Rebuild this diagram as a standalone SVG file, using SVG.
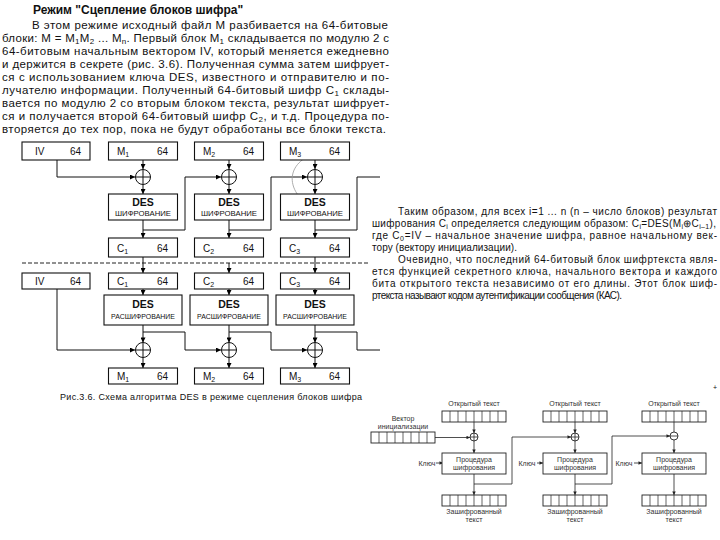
<svg xmlns="http://www.w3.org/2000/svg" width="720" height="540" viewBox="0 0 720 540">
<defs>
<marker id="a" viewBox="0 0 10 10" refX="10" refY="5" markerWidth="6" markerHeight="5" markerUnits="userSpaceOnUse" orient="auto"><path d="M0,0 L10,5 L0,10 z" fill="#000"/></marker>
<marker id="s" viewBox="0 0 10 10" refX="10" refY="5" markerWidth="4" markerHeight="3.5" markerUnits="userSpaceOnUse" orient="auto"><path d="M0,0 L10,5 L0,10 z" fill="#222"/></marker>
<g id="reg"><rect x="0" y="0" width="64" height="11" fill="#fff" stroke="#222" stroke-width="0.9"/><path d="M8 0V11M16 0V11M24 0V11M32 0V11M40 0V11M48 0V11M56 0V11" stroke="#222" stroke-width="0.7"/></g>
</defs>
<style>
text{font-family:"Liberation Sans",Arial,sans-serif;fill:#111}
.p{font-size:11.5px}
.q{font-size:10px}
.t{font-size:12px;font-weight:bold}
.bl{font-size:10px}
.des{font-size:10.5px;font-weight:bold;text-anchor:middle}
.sm{font-size:7px;text-anchor:middle}
.cap{font-size:9px}
.r{font-size:7px;text-anchor:middle;fill:#333}
.b{fill:#fff;stroke:#111;stroke-width:1.1}
.l{fill:none;stroke:#111;stroke-width:1}
.x{fill:#fff;stroke:#111;stroke-width:1}
.rl{fill:none;stroke:#222;stroke-width:0.8}
.rb{fill:#fff;stroke:#222;stroke-width:0.9}
</style>
<rect width="720" height="540" fill="#fff"/>

<g id="text-left">
<text class="t" x="33" y="14">Режим "Сцепление блоков шифра"</text>
<text class="p" x="32" y="29" textLength="356" lengthAdjust="spacing">В этом режиме исходный файл М разбивается на 64-битовые</text>
<text class="p" x="2" y="42" textLength="387" lengthAdjust="spacing">блоки: M = M<tspan font-size="8" dy="2">1</tspan><tspan dy="-2">M</tspan><tspan font-size="8" dy="2">2</tspan><tspan dy="-2"> ... M</tspan><tspan font-size="8" dy="2">n</tspan><tspan dy="-2">. Первый блок M</tspan><tspan font-size="8" dy="2">1</tspan><tspan dy="-2"> складывается по модулю 2 с</tspan></text>
<text class="p" x="2" y="55" textLength="387" lengthAdjust="spacing">64-битовым начальным вектором IV, который меняется ежедневно</text>
<text class="p" x="2" y="68" textLength="387" lengthAdjust="spacing">и держится в секрете (рис. 3.6). Полученная сумма затем шифрует-</text>
<text class="p" x="2" y="81" textLength="387" lengthAdjust="spacing">ся с использованием ключа DES, известного и отправителю и по-</text>
<text class="p" x="2" y="94" textLength="387" lengthAdjust="spacing">лучателю информации. Полученный 64-битовый шифр C<tspan font-size="8" dy="2">1</tspan><tspan dy="-2"> склады-</tspan></text>
<text class="p" x="2" y="107" textLength="387" lengthAdjust="spacing">вается по модулю 2 со вторым блоком текста, результат шифрует-</text>
<text class="p" x="2" y="120" textLength="387" lengthAdjust="spacing">ся и получается второй 64-битовый шифр C<tspan font-size="8" dy="2">2</tspan><tspan dy="-2">, и т.д. Процедура по-</tspan></text>
<text class="p" x="2" y="133" textLength="384" lengthAdjust="spacing">вторяется до тех пор, пока не будут обработаны все блоки текста.</text>
</g>

<g id="text-right">
<text class="q" x="398" y="214.5" textLength="319" lengthAdjust="spacing">Таким образом, для всех i=1 ... n (n – число блоков) результат</text>
<text class="q" x="372" y="226.5" textLength="344" lengthAdjust="spacing">шифрования C<tspan font-size="7" dy="2">i</tspan><tspan dy="-2"> определяется следующим образом: C</tspan><tspan font-size="7" dy="2">i</tspan><tspan dy="-2">=DES(M</tspan><tspan font-size="7" dy="2">i</tspan><tspan dy="-2">⊕C</tspan><tspan font-size="7" dy="2">i–1</tspan><tspan dy="-2">),</tspan></text>
<text class="q" x="372" y="238.5" textLength="345" lengthAdjust="spacing">где C<tspan font-size="7" dy="2">0</tspan><tspan dy="-2">=IV – начальное значение шифра, равное начальному век-</tspan></text>
<text class="q" x="372" y="250.5" textLength="145" lengthAdjust="spacing">тору (вектору инициализации).</text>
<text class="q" x="398" y="262.5" textLength="319" lengthAdjust="spacing">Очевидно, что последний 64-битовый блок шифртекста явля-</text>
<text class="q" x="372" y="274.5" textLength="345" lengthAdjust="spacing">ется функцией секретного ключа, начального вектора и каждого</text>
<text class="q" x="372" y="286.5" textLength="345" lengthAdjust="spacing">бита открытого текста независимо от его длины. Этот блок шиф-</text>
<text class="q" x="372" y="298.5" textLength="250" lengthAdjust="spacing">ртекста называют кодом аутентификации сообщения (КАС).</text>
</g>

<g id="connectors-left">
<path class="l" d="M143 160V169" marker-end="url(#a)"/>
<path class="l" d="M229 160V169" marker-end="url(#a)"/>
<path class="l" d="M315 160V169" marker-end="url(#a)"/>
<path class="l" d="M57 160V177H135" marker-end="url(#a)"/>
<path class="l" d="M143 184.5V194" marker-end="url(#a)"/>
<path class="l" d="M229 184.5V194" marker-end="url(#a)"/>
<path class="l" d="M315 184.5V194" marker-end="url(#a)"/>
<path class="l" d="M143 220V238" marker-end="url(#a)"/>
<path class="l" d="M229 220V238" marker-end="url(#a)"/>
<path class="l" d="M315 220V238" marker-end="url(#a)"/>
<path class="l" d="M143 230H185V177H221" marker-end="url(#a)"/>
<path class="l" d="M229 230H271V177H307" marker-end="url(#a)"/>
<path class="l" d="M315 230H357V177H380"/>
<path d="M332 152C300 150 278 176 303 201" fill="none" stroke="#999" stroke-width="0.8"/>
<path d="M22 263H368" fill="none" stroke="#222" stroke-width="1" stroke-dasharray="4 2"/>
<path class="l" d="M143 257V273" marker-end="url(#a)"/>
<path class="l" d="M229 263V273" marker-end="url(#a)"/>
<path class="l" d="M315 257V273" marker-end="url(#a)"/>
<path class="l" d="M143 289V295" marker-end="url(#a)"/>
<path class="l" d="M229 289V295" marker-end="url(#a)"/>
<path class="l" d="M315 289V295" marker-end="url(#a)"/>
<path class="l" d="M143 325V342.5" marker-end="url(#a)"/>
<path class="l" d="M229 325V342.5" marker-end="url(#a)"/>
<path class="l" d="M315 325V342.5" marker-end="url(#a)"/>
<path class="l" d="M143 332H185V350H221" marker-end="url(#a)"/>
<path class="l" d="M229 332H271V350H307" marker-end="url(#a)"/>
<path class="l" d="M315 332H357V350H380"/>
<path class="l" d="M57 289V350H135" marker-end="url(#a)"/>
<path class="l" d="M143 357.5V368" marker-end="url(#a)"/>
<path class="l" d="M229 357.5V368" marker-end="url(#a)"/>
<path class="l" d="M315 357.5V368" marker-end="url(#a)"/>
</g>

<g id="iv-top"><rect class="b" x="22" y="142" width="68" height="18"/><text class="bl" x="35" y="155">IV</text><text class="bl" x="70" y="155">64</text></g>
<g id="m1-top"><rect class="b" x="108.5" y="142" width="69" height="18"/><text class="bl" x="117" y="155">M<tspan font-size="7" dy="2">1</tspan></text><text class="bl" x="157" y="155">64</text></g>
<g id="m2-top"><rect class="b" x="194.5" y="142" width="69" height="18"/><text class="bl" x="203" y="155">M<tspan font-size="7" dy="2">2</tspan></text><text class="bl" x="243" y="155">64</text></g>
<g id="m3-top"><rect class="b" x="280.5" y="142" width="69" height="18"/><text class="bl" x="289" y="155">M<tspan font-size="7" dy="2">3</tspan></text><text class="bl" x="329" y="155">64</text></g>

<g id="xor1-top"><circle class="x" cx="143" cy="177" r="7.5"/><path class="l" d="M135.5 177H150.5M143 169.5V184.5"/></g>
<g id="xor2-top"><circle class="x" cx="229" cy="177" r="7.5"/><path class="l" d="M221.5 177H236.5M229 169.5V184.5"/></g>
<g id="xor3-top"><circle class="x" cx="315" cy="177" r="7.5"/><path class="l" d="M307.5 177H322.5M315 169.5V184.5"/></g>

<g id="des1-enc"><rect class="b" x="108.5" y="194" width="69" height="26"/><text class="des" x="143" y="206">DES</text><text class="sm" x="143" y="215.5" textLength="56" lengthAdjust="spacingAndGlyphs">ШИФРОВАНИЕ</text></g>
<g id="des2-enc"><rect class="b" x="194.5" y="194" width="69" height="26"/><text class="des" x="229" y="206">DES</text><text class="sm" x="229" y="215.5" textLength="56" lengthAdjust="spacingAndGlyphs">ШИФРОВАНИЕ</text></g>
<g id="des3-enc"><rect class="b" x="280.5" y="194" width="69" height="26"/><text class="des" x="315" y="206">DES</text><text class="sm" x="315" y="215.5" textLength="56" lengthAdjust="spacingAndGlyphs">ШИФРОВАНИЕ</text></g>

<g id="c1-top"><rect class="b" x="108.5" y="238" width="69" height="19"/><text class="bl" x="117" y="251.5">C<tspan font-size="7" dy="2">1</tspan></text><text class="bl" x="157" y="251.5">64</text></g>
<g id="c2-top"><rect class="b" x="194.5" y="238" width="69" height="19"/><text class="bl" x="203" y="251.5">C<tspan font-size="7" dy="2">2</tspan></text><text class="bl" x="243" y="251.5">64</text></g>
<g id="c3-top"><rect class="b" x="280.5" y="238" width="69" height="19"/><text class="bl" x="289" y="251.5">C<tspan font-size="7" dy="2">3</tspan></text><text class="bl" x="329" y="251.5">64</text></g>

<g id="iv-bot"><rect class="b" x="22" y="273" width="68" height="16"/><text class="bl" x="35" y="285">IV</text><text class="bl" x="70" y="285">64</text></g>
<g id="c1-bot"><rect class="b" x="108.5" y="273" width="69" height="16"/><text class="bl" x="117" y="285">C<tspan font-size="7" dy="2">1</tspan></text><text class="bl" x="157" y="285">64</text></g>
<g id="c2-bot"><rect class="b" x="194.5" y="273" width="69" height="16"/><text class="bl" x="203" y="285">C<tspan font-size="7" dy="2">2</tspan></text><text class="bl" x="243" y="285">64</text></g>
<g id="c3-bot"><rect class="b" x="280.5" y="273" width="69" height="16"/><text class="bl" x="289" y="285">C<tspan font-size="7" dy="2">3</tspan></text><text class="bl" x="329" y="285">64</text></g>

<g id="des1-dec"><rect class="b" x="104" y="295" width="78" height="30"/><text class="des" x="143" y="308">DES</text><text class="sm" x="143" y="319" textLength="64" lengthAdjust="spacingAndGlyphs">РАСШИФРОВАНИЕ</text></g>
<g id="des2-dec"><rect class="b" x="190" y="295" width="78" height="30"/><text class="des" x="229" y="308">DES</text><text class="sm" x="229" y="319" textLength="64" lengthAdjust="spacingAndGlyphs">РАСШИФРОВАНИЕ</text></g>
<g id="des3-dec"><rect class="b" x="276" y="295" width="78" height="30"/><text class="des" x="315" y="308">DES</text><text class="sm" x="315" y="319" textLength="64" lengthAdjust="spacingAndGlyphs">РАСШИФРОВАНИЕ</text></g>

<g id="xor1-bot"><circle class="x" cx="143" cy="350" r="7.5"/><path class="l" d="M135.5 350H150.5M143 342.5V357.5"/></g>
<g id="xor2-bot"><circle class="x" cx="229" cy="350" r="7.5"/><path class="l" d="M221.5 350H236.5M229 342.5V357.5"/></g>
<g id="xor3-bot"><circle class="x" cx="315" cy="350" r="7.5"/><path class="l" d="M307.5 350H322.5M315 342.5V357.5"/></g>

<g id="m1-bot"><rect class="b" x="108.5" y="368" width="69" height="16"/><text class="bl" x="117" y="380">M<tspan font-size="7" dy="2">1</tspan></text><text class="bl" x="157" y="380">64</text></g>
<g id="m2-bot"><rect class="b" x="194.5" y="368" width="69" height="16"/><text class="bl" x="203" y="380">M<tspan font-size="7" dy="2">2</tspan></text><text class="bl" x="243" y="380">64</text></g>
<g id="m3-bot"><rect class="b" x="280.5" y="368" width="69" height="16"/><text class="bl" x="289" y="380">M<tspan font-size="7" dy="2">3</tspan></text><text class="bl" x="329" y="380">64</text></g>

<text class="cap" x="60" y="400" textLength="302" lengthAdjust="spacing">Рис.3.6. Схема алгоритма DES в режиме сцепления блоков шифра</text>

<g id="connectors-right">
<path class="rl" d="M474 422V433" marker-end="url(#s)"/>
<path class="rl" d="M575 422V433" marker-end="url(#s)"/>
<path class="rl" d="M674 422V432"/>
<path class="rl" d="M474 441V453" marker-end="url(#s)"/>
<path class="rl" d="M575 441V453" marker-end="url(#s)"/>
<path class="rl" d="M674 440V453" marker-end="url(#s)"/>
<path class="rl" d="M435 437.5H470" marker-end="url(#s)"/>
<path class="rl" d="M474 474V495" marker-end="url(#s)"/>
<path class="rl" d="M575 474V495" marker-end="url(#s)"/>
<path class="rl" d="M674 474V495" marker-end="url(#s)"/>
<path class="rl" d="M474 484H512V437H571" marker-end="url(#s)"/>
<path class="rl" d="M575 484H612V436H670" marker-end="url(#s)"/>
<path class="rl" d="M436 463H443" marker-end="url(#s)"/>
<path class="rl" d="M537 463H543" marker-end="url(#s)"/>
<path class="rl" d="M634 463H642" marker-end="url(#s)"/>
</g>

<g id="vector">
<text class="r" x="403" y="421">Вектор</text>
<text class="r" x="403" y="429">инициализации</text>
<use href="#reg" x="371" y="432"/>
</g>

<g id="plain1"><text class="r" x="474" y="406">Открытый текст</text><use href="#reg" x="442" y="411"/></g>
<g id="plain2"><text class="r" x="575" y="406">Открытый текст</text><use href="#reg" x="543" y="411"/></g>
<g id="plain3"><text class="r" x="674" y="406">Открытый текст</text><use href="#reg" x="642" y="411"/></g>

<g id="xorA"><circle class="rb" cx="474" cy="437" r="4"/><path class="rl" d="M470 437H478M474 433V441"/></g>
<g id="xorB"><circle class="rb" cx="575" cy="437" r="4"/><path class="rl" d="M571 437H579M575 433V441"/></g>
<g id="xorC"><circle class="rb" cx="674" cy="436" r="4"/><path class="rl" d="M670 436H678"/></g>

<g id="procA"><rect class="rb" x="442" y="453" width="64" height="21"/><text class="r" x="474" y="462">Процедура</text><text class="r" x="474" y="470">шифрования</text><text class="r" x="427" y="466">Ключ</text></g>
<g id="procB"><rect class="rb" x="543" y="453" width="64" height="21"/><text class="r" x="575" y="462">Процедура</text><text class="r" x="575" y="470">шифрования</text><text class="r" x="527" y="466">Ключ</text></g>
<g id="procC"><rect class="rb" x="642" y="453" width="64" height="21"/><text class="r" x="674" y="462">Процедура</text><text class="r" x="674" y="470">шифрования</text><text class="r" x="624" y="466">Ключ</text></g>

<g id="cipher1"><use href="#reg" x="442" y="495"/><text class="r" x="474" y="514">Зашифрованный</text><text class="r" x="474" y="522">текст</text></g>
<g id="cipher2"><use href="#reg" x="543" y="495"/><text class="r" x="575" y="514">Зашифрованный</text><text class="r" x="575" y="522">текст</text></g>
<g id="cipher3"><use href="#reg" x="642" y="495"/><text class="r" x="674" y="514">Зашифрованный</text><text class="r" x="674" y="522">текст</text></g>

<text x="715" y="390" font-size="7" fill="#666" text-anchor="middle">+</text>
</svg>
